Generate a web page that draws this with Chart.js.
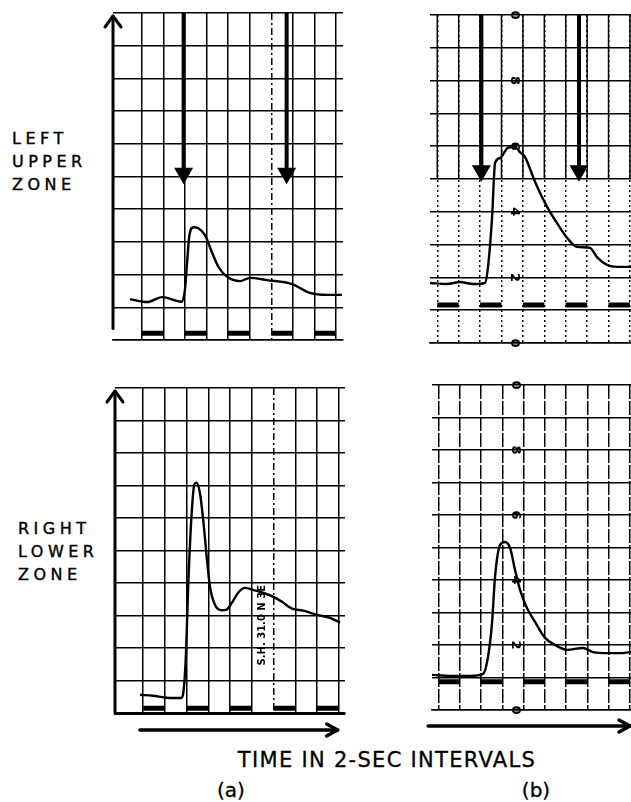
<!DOCTYPE html>
<html>
<head>
<meta charset="utf-8">
<script src="https://cdn.jsdelivr.net/npm/chart.js@4.4.1/dist/chart.umd.min.js"></script>
<style>
  html, body { margin: 0; padding: 0; background: #fff; }
  body { width: 631px; height: 802px; position: relative; overflow: hidden; font-family: 'DejaVu Sans', sans-serif; color: #000; }
  canvas { position: absolute; }
  .zone { position: absolute; font-size: 16px; line-height: 23px; letter-spacing: 4.5px; -webkit-text-stroke: 0.4px #000; }
  .caption { position: absolute; text-align: center; white-space: nowrap; -webkit-text-stroke: 0.3px #000; }
</style>
</head>
<body>
<div class="zone" style="left:12px;top:127px">LEFT<br>UPPER<br>ZONE</div>
<div class="zone" style="left:18px;top:517px">RIGHT<br>LOWER<br>ZONE</div>
<div class="caption" style="left:187px;width:400px;top:750px;font-size:21px;line-height:21px;letter-spacing:1.3px">TIME IN 2-SEC INTERVALS</div>
<div class="caption" style="left:181px;width:100px;top:780px;font-size:20px;line-height:20px">(a)</div>
<div class="caption" style="left:486px;width:100px;top:780px;font-size:20px;line-height:20px">(b)</div>

<canvas id="aUpper" width="270" height="367" style="left:93px;top:-7px"></canvas>
<canvas id="aLower" width="270" height="380" style="left:95px;top:368px"></canvas>
<canvas id="bUpper" width="250" height="368" style="left:410px;top:-5px"></canvas>
<canvas id="bLower" width="248" height="380" style="left:412px;top:365px"></canvas>

<script>
// time axis in 2-sec intervals, y in chart-paper divisions
const gridTimes = [0, 1, 2, 3, 4, 5, 6, 7, 8, 9];
const gridLevels = [0, 1, 2, 3, 4, 5, 6, 7, 8, 9, 10];
const timingIntervals = [[0, 1], [2, 3], [4, 5], [6, 7], [8, 9]];
const paperDigitLevels = [10, 8, 6, 4, 2, 0];
const paperDigitLabels = ['0', '8', '6', '4', '2', '0'];

// (a) left upper zone
const aUpperTime = [-0.54, 0.25, 0.94, 1.85, 2.0, 2.11, 2.2, 2.39, 2.62, 2.93, 3.24, 3.55, 3.94, 4.55, 5.01, 5.8, 6.96, 7.79, 8.58, 9.27];
const aUpperValue = [1.25, 1.16, 1.31, 1.17, 1.53, 2.45, 3.16, 3.45, 3.42, 3.21, 2.7, 2.24, 1.94, 1.8, 1.9, 1.83, 1.71, 1.44, 1.38, 1.38];
const aUpperArrows = [1.94, 6.71];

// (a) right lower zone
const aLowerTime = [-0.15, 0.45, 1.09, 1.74, 1.84, 1.97, 2.07, 2.23, 2.35, 2.45, 2.61, 2.76, 2.92, 3.07, 3.3, 3.61, 3.84, 4.07, 4.38, 4.68, 5.05, 5.51, 5.97, 6.39, 6.85, 7.36, 8.0, 8.6, 9.06];
const aLowerValue = [0.56, 0.53, 0.47, 0.46, 0.6, 1.85, 3.9, 6.15, 7.02, 7.09, 6.77, 5.95, 4.82, 3.9, 3.33, 3.16, 3.18, 3.38, 3.71, 3.85, 3.79, 3.7, 3.58, 3.42, 3.21, 3.15, 3.02, 2.93, 2.78];

// (b) left upper zone
const bUpperTime = [-0.34, 0.45, 1.06, 1.67, 2.23, 2.37, 2.56, 2.7, 2.93, 3.3, 3.63, 3.86, 4.1, 4.57, 5.13, 5.59, 6.11, 6.53, 7.13, 7.46, 7.93, 8.4, 9.0, 9.4];
const bUpperValue = [1.83, 1.8, 1.86, 1.8, 1.83, 2.32, 3.84, 5.49, 5.64, 5.95, 5.98, 5.82, 5.67, 4.91, 4.15, 3.66, 3.17, 2.93, 2.9, 2.62, 2.38, 2.32, 2.32, 2.32];
const bUpperArrows = [2.06, 6.62];

// (b) right lower zone
const bLowerTime = [-0.3, 0.55, 1.49, 2.1, 2.33, 2.52, 2.66, 2.9, 3.13, 3.37, 3.6, 3.84, 4.16, 4.54, 5.01, 5.48, 6.04, 6.79, 7.26, 7.97, 8.53, 9.0, 9.4];
const bLowerValue = [1.08, 1.05, 1.05, 1.11, 1.63, 2.68, 4.09, 5.08, 5.17, 4.98, 4.31, 3.69, 3.14, 2.71, 2.22, 2.0, 1.85, 1.91, 1.78, 1.75, 1.75, 1.78, 1.8];

const panelDecor = {
  id: 'panelDecor',
  beforeDatasetsDraw(chart, args, o) {
    if (o.solidAbove == null) return;
    const { ctx, chartArea: a, scales: { x, y } } = chart;
    ctx.save();
    ctx.strokeStyle = '#000';
    ctx.lineWidth = 1.5;
    x.ticks.forEach(t => {
      const px = x.getPixelForValue(t.value);
      ctx.beginPath();
      ctx.moveTo(px, a.top);
      ctx.lineTo(px, y.getPixelForValue(o.solidAbove));
      ctx.stroke();
    });
    ctx.restore();
  },
  afterDraw(chart, args, o) {
    const { ctx, chartArea: a, scales: { x, y } } = chart;
    ctx.save();
    ctx.strokeStyle = ctx.fillStyle = '#000';
    ctx.lineCap = 'round';
    ctx.lineJoin = 'round';
    if (o.yArrow) {
      const top = a.top + 3;
      ctx.lineWidth = 3;
      ctx.beginPath();
      ctx.moveTo(a.left, y.getPixelForValue(o.yArrow.from));
      ctx.lineTo(a.left, top);
      ctx.stroke();
      ctx.beginPath();
      ctx.moveTo(a.left - 8, top + 11);
      ctx.lineTo(a.left, top);
      ctx.lineTo(a.left + 8, top + 11);
      ctx.stroke();
    }
    if (o.timeArrow) {
      const ty = a.bottom + o.timeArrow.offset;
      const x1 = x.getPixelForValue(o.timeArrow.from);
      const x2 = x.getPixelForValue(o.timeArrow.to);
      ctx.lineWidth = 3.5;
      ctx.beginPath();
      ctx.moveTo(x1, ty);
      ctx.lineTo(x2, ty);
      ctx.stroke();
      ctx.beginPath();
      ctx.moveTo(x2 - 11, ty - 6);
      ctx.lineTo(x2, ty);
      ctx.lineTo(x2 - 11, ty + 6);
      ctx.stroke();
    }
    if (o.digits) {
      ctx.font = 'bold 13px "DejaVu Sans"';
      ctx.textAlign = 'center';
      ctx.textBaseline = 'middle';
      const px = x.getPixelForValue(o.digits.x);
      paperDigitLevels.forEach((lv, i) => {
        ctx.save();
        ctx.translate(px, y.getPixelForValue(lv));
        ctx.rotate(Math.PI / 2);
        ctx.fillText(paperDigitLabels[i], 0, 0);
        ctx.restore();
      });
    }
    if (o.note) {
      ctx.font = 'bold 10px "DejaVu Sans"';
      ctx.textAlign = 'center';
      ctx.textBaseline = 'middle';
      ctx.translate(x.getPixelForValue(o.note.x), y.getPixelForValue(o.note.y));
      ctx.rotate(-Math.PI / 2);
      ctx.fillText(o.note.text, 0, 0);
    }
    ctx.restore();
  }
};

function makePanel(id, p) {
  const curve = {
    data: p.time.map((t, i) => ({ x: t, y: p.value[i] })),
    borderColor: '#000',
    borderWidth: 2.4,
    pointRadius: 0,
    cubicInterpolationMode: 'monotone'
  };
  const markData = [];
  timingIntervals.forEach(([s, e]) => {
    markData.push({ x: s, y: p.markLevel }, { x: e, y: p.markLevel }, { x: e, y: null });
  });
  const marks = {
    data: markData,
    borderColor: '#000',
    borderWidth: 5,
    borderCapStyle: 'butt',
    pointRadius: 0
  };
  const arrows = (p.arrows || []).map(t => ({
    data: [{ x: t, y: 10 }, { x: t, y: p.arrowLevel }],
    borderColor: '#000',
    borderWidth: 4,
    borderCapStyle: 'butt',
    pointRadius: [0, 7],
    pointStyle: 'triangle',
    pointRotation: 180,
    pointBackgroundColor: '#000',
    pointBorderColor: '#000'
  }));

  new Chart(document.getElementById(id), {
    type: 'line',
    data: { datasets: [curve, marks, ...arrows] },
    options: {
      responsive: false,
      animation: false,
      events: [],
      layout: { autoPadding: false, padding: p.padding },
      plugins: {
        legend: { display: false },
        tooltip: { enabled: false },
        panelDecor: p.decor
      },
      scales: {
        x: {
          type: 'linear',
          min: p.xMin,
          max: p.xMax,
          afterBuildTicks: s => { s.ticks = gridTimes.map(v => ({ value: v })); },
          ticks: { display: false },
          grid: { color: '#000', lineWidth: 1.5, drawTicks: false },
          border: { display: true, color: '#000', width: p.baseWidth, dash: c => (c.tick ? p.gridDash(c.tick.value) : []) }
        },
        y: {
          type: 'linear',
          min: 0,
          max: 10,
          afterBuildTicks: s => { s.ticks = gridLevels.map(v => ({ value: v })); },
          ticks: { display: false },
          grid: { color: '#000', lineWidth: 1.5, drawTicks: false },
          border: { display: false }
        }
      }
    },
    plugins: [panelDecor]
  });
}

const dashAtSix = v => (v === 6 ? [7, 3, 2, 3] : []);

makePanel('aUpper', {
  time: aUpperTime, value: aUpperValue, arrows: aUpperArrows, arrowLevel: 5.1, markLevel: 0.21,
  xMin: -1.33, xMax: 9.32, baseWidth: 1.5, gridDash: dashAtSix,
  padding: { left: 20, right: 20, top: 20, bottom: 20 },
  decor: { yArrow: { from: 0.35 } }
});
makePanel('aLower', {
  time: aLowerTime, value: aLowerValue, markLevel: 0.15,
  xMin: -1.3, xMax: 9.29, baseWidth: 3, gridDash: dashAtSix,
  padding: { left: 20, right: 20, top: 20, bottom: 35 },
  decor: { yArrow: { from: 0 }, timeArrow: { from: -0.15, to: 8.95, offset: 17 }, note: { text: 'S.H. 31.0 N 3E', x: 5.5, y: 2.7 } }
});
makePanel('bUpper', {
  time: bUpperTime, value: bUpperValue, arrows: bUpperArrows, arrowLevel: 5.25, markLevel: 1.16,
  xMin: -0.34, xMax: 9.47, baseWidth: 1.5, gridDash: () => [2, 3],
  padding: { left: 20, right: 20, top: 20, bottom: 20 },
  decor: { solidAbove: 5, digits: { x: 3.62 } }
});
makePanel('bLower', {
  time: bLowerTime, value: bLowerValue, markLevel: 0.87,
  xMin: -0.3, xMax: 9.47, baseWidth: 1.5, gridDash: () => [14, 2],
  padding: { left: 20, right: 20, top: 20, bottom: 35 },
  decor: { timeArrow: { from: -0.48, to: 9.0, offset: 16 }, digits: { x: 3.6 } }
});
</script>
</body>
</html>
